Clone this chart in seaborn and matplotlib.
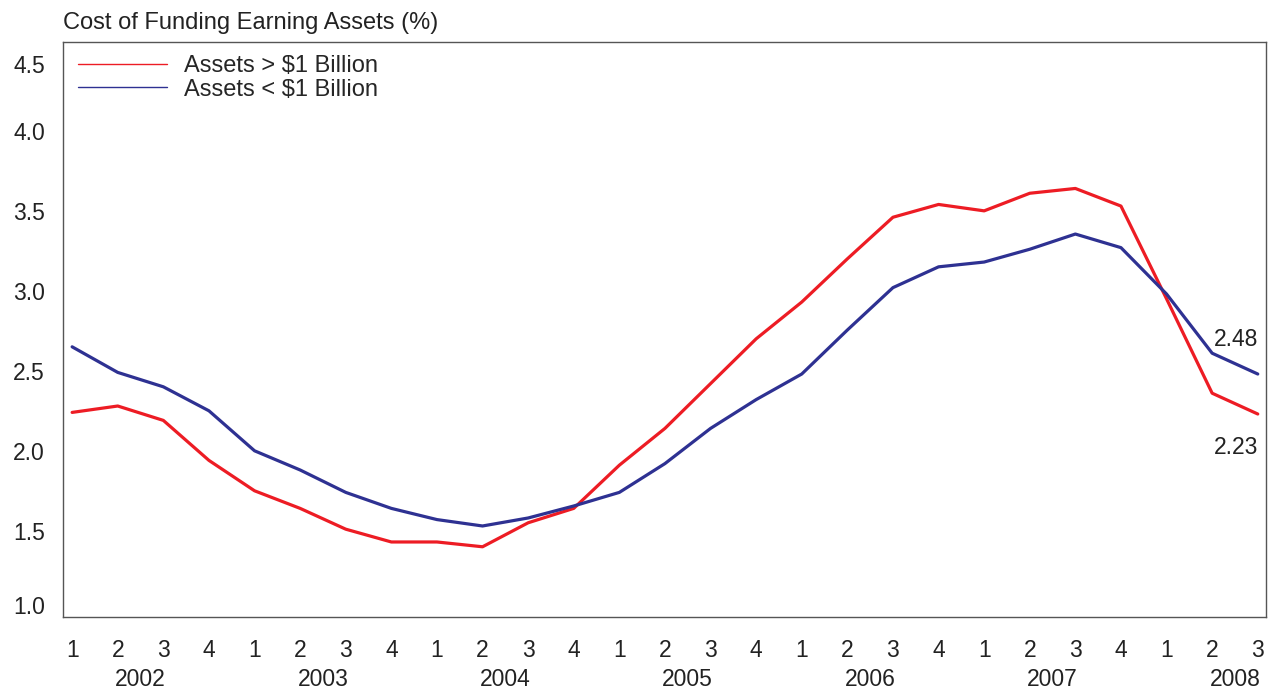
import pandas as pd
import matplotlib.pyplot as plt
import seaborn as sns
from matplotlib.lines import Line2D
from matplotlib.transforms import ScaledTranslation

# Quarterly cost of funding earning assets (%), 2002 Q1 - 2008 Q3
years = ['2002', '2003', '2004', '2005', '2006', '2007', '2008']
quarters = [1, 2, 3, 4] * 6 + [1, 2, 3]
large_banks = [2.24, 2.28, 2.19, 1.94, 1.75, 1.64, 1.51, 1.43, 1.43, 1.40,
               1.55, 1.64, 1.91, 2.14, 2.42, 2.70, 2.93, 3.20, 3.46, 3.54,
               3.50, 3.61, 3.64, 3.53, 2.95, 2.36, 2.23]
small_banks = [2.65, 2.49, 2.40, 2.25, 2.00, 1.88, 1.74, 1.64, 1.57, 1.53,
               1.58, 1.655, 1.74, 1.92, 2.14, 2.32, 2.48, 2.755, 3.02, 3.15,
               3.18, 3.26, 3.355, 3.27, 2.98, 2.61, 2.48]
series_names = ['Assets > $1 Billion', 'Assets < $1 Billion']
colors = ['#ED1C24', '#2E3192']
y_ticks = [1.0, 1.5, 2.0, 2.5, 3.0, 3.5, 4.0, 4.5]

FS = 17
TXT = '#222222'


def build_frame():
    idx = list(range(len(quarters)))
    df = pd.concat([
        pd.DataFrame({'t': idx, 'value': large_banks, 'series': series_names[0]}),
        pd.DataFrame({'t': idx, 'value': small_banks, 'series': series_names[1]}),
    ])
    return df


def plot_cost_of_funding(df):
    sns.set_style('white')
    plt.rcParams['font.family'] = ['Liberation Sans', 'DejaVu Sans']

    fig = plt.figure(figsize=(12.68, 6.9), dpi=100)
    ax = fig.add_axes([0.0497, 0.1058, 0.9487, 0.8332])

    sns.lineplot(data=df, x='t', y='value', hue='series', palette=colors,
                 hue_order=series_names, linewidth=2.3, ax=ax, legend=False)

    ax.set_xlim(-0.2, len(quarters) - 1 + 0.18)
    ax.set_ylim(0.961, 4.555)

    # quarter numbers on the axis, years underneath
    ax.set_xticks(range(len(quarters)))
    ax.set_xticklabels([str(q) for q in quarters], fontsize=FS - 0.5, color=TXT)
    ax.set_yticks(y_ticks)
    ax.set_yticklabels([f'{v:.1f}' for v in y_ticks], fontsize=FS - 0.5, color=TXT)
    ax.tick_params(axis='x', length=0, pad=16)
    ax.tick_params(axis='y', length=0, pad=13)
    ax.set_xlabel('')
    ax.set_ylabel('')

    # end labels sit inside the frame in the original
    yl = ax.get_yticklabels()
    yl[0].set_transform(yl[0].get_transform() + ScaledTranslation(0, 0.06, fig.dpi_scale_trans))
    yl[-1].set_transform(yl[-1].get_transform() + ScaledTranslation(0, -0.13, fig.dpi_scale_trans))

    for i, yr in enumerate(years):
        ax.text(i * 4 + 1.5, -0.108, yr, transform=ax.get_xaxis_transform(),
                ha='center', va='center', fontsize=FS - 0.5, color=TXT)

    for side in ['top', 'right', 'bottom', 'left']:
        ax.spines[side].set_color('#555555')
        ax.spines[side].set_linewidth(1.0)

    # last-point labels
    last = len(quarters) - 1
    ax.annotate(f'{small_banks[-1]:.2f}', xy=(last, small_banks[-1]),
                xytext=(0, 25), textcoords='offset points', ha='right', va='center',
                fontsize=FS - 0.5, color=TXT)
    ax.annotate(f'{large_banks[-1]:.2f}', xy=(last, large_banks[-1]),
                xytext=(0, -24), textcoords='offset points', ha='right', va='center',
                fontsize=FS - 0.5, color=TXT)

    handles = [Line2D([], [], color=c, lw=1.0) for c in colors]
    ax.legend(handles, series_names, loc='upper left', frameon=False,
              fontsize=FS, handlelength=3.75, handletextpad=0.75,
              labelspacing=0.06, borderaxespad=0.0, borderpad=0.0,
              bbox_to_anchor=(0.0125, 0.977))

    fig.text(0.0497, 0.966, 'Cost of Funding Earning Assets (%)', ha='left',
             va='center', fontsize=FS, color=TXT)

    fig.savefig('out.png', dpi=100)
    print("Saved out.png")


if __name__ == "__main__":
    df = build_frame()
    plot_cost_of_funding(df)
